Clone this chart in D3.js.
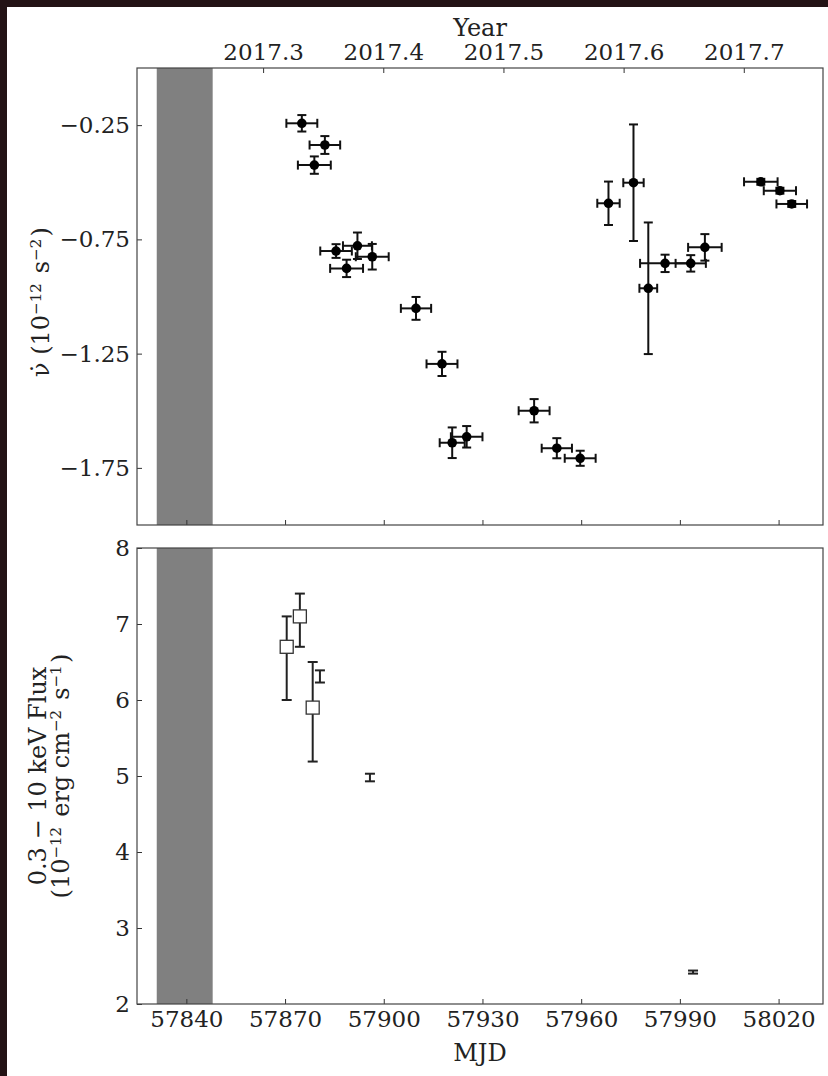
<!DOCTYPE html>
<html><head><meta charset="utf-8">
<script src="https://cdn.jsdelivr.net/npm/d3@7"></script>
<style>
body{margin:0;background:#231315;}
svg{display:block}
text{font-family:"DejaVu Serif",serif;fill:#222;}
</style>
</head><body>
<svg id="c" width="828" height="1076"></svg>
<script>
// ---- data ----
const nudotMJD  = [57875.1,57882.1,57878.9,57885.5,57892.0,57896.5,57888.7,57909.8,57917.7,57920.8,57925.2,57945.7,57952.6,57959.7,57968.3,57975.9,57980.4,57985.5,57993.3,57997.6,58014.6,58020.4,58024.0];
const nudotVal  = [-0.242,-0.337,-0.425,-0.801,-0.778,-0.826,-0.877,-1.052,-1.295,-1.640,-1.614,-1.500,-1.664,-1.708,-0.592,-0.502,-0.964,-0.855,-0.855,-0.785,-0.498,-0.537,-0.595];
const nudotXerr = [4.7,4.65,5.0,4.8,4.4,5.0,5.0,4.6,4.7,3.8,4.8,4.7,4.6,4.7,3.4,3.1,2.7,7.6,4.6,5.1,5.1,4.9,4.65];
const nudotYerr = [0.036,0.039,0.038,0.030,0.058,0.056,0.038,0.050,0.053,0.067,0.047,0.051,0.044,0.033,0.095,0.255,0.288,0.038,0.036,0.058,0.013,0.013,0.013];

const fluxSqMJD   = [57870.5,57874.5,57878.4];
const fluxSqVal   = [6.7,7.1,5.9];
const fluxSqErrLo = [0.7,0.4,0.71];
const fluxSqErrHi = [0.4,0.3,0.6];

const fluxBarMJD = [57880.6,57895.8,57994.0];
const fluxBarVal = [6.31,4.98,2.42];
const fluxBarErr = [0.08,0.05,0.02];

const gapBand = [57831,57848];

const mjdTicks   = [57840,57870,57900,57930,57960,57990,58020];
const yearTicks  = [2017.3,2017.4,2017.5,2017.6,2017.7];
const nudotTicks = [-0.25,-0.75,-1.25,-1.75];
const fluxTicks  = [2,3,4,5,6,7,8];

// ---- layout ----
const L=137, R=823;
const top1=68, bot1=525, top2=548, bot2=1004;
const svg=d3.select("#c");
svg.append("rect").attr("x",7).attr("y",7).attr("width",821).attr("height",1069).attr("fill","#fff");

const x=d3.scaleLinear().domain([57825,58033.5]).range([L,R]);
const y1=d3.scaleLinear().domain([-2,0]).range([bot1,top1]);
const y2=d3.scaleLinear().domain([2,8]).range([bot2,top2]);
const yearToMJD = yr => 51544.5 + (yr-2000)*365.25;
const FS=23;

function band(t,b){
  svg.append("rect").attr("x",x(gapBand[0])).attr("y",t).attr("width",x(gapBand[1])-x(gapBand[0])).attr("height",b-t).attr("fill","#808080");
}
band(top1,bot1); band(top2,bot2);

function styleAxis(g){
  g.select(".domain").remove();
  g.selectAll("line").attr("stroke","#333");
  g.selectAll("text").attr("font-family","DejaVu Serif").attr("font-size",FS).attr("fill","#222");
}

// top panel axes
svg.append("g").attr("transform",`translate(0,${bot1})`)
  .call(d3.axisBottom(x).tickValues(mjdTicks).tickSizeInner(-5).tickSizeOuter(0).tickFormat(""))
  .call(styleAxis);
svg.append("g").attr("transform",`translate(0,${top1})`)
  .call(d3.axisTop(x).tickValues(yearTicks.map(yearToMJD)).tickSizeInner(-5).tickSizeOuter(0).tickPadding(8)
    .tickFormat((d,i)=>d3.format(".1f")(yearTicks[i])))
  .call(styleAxis);
svg.append("g").attr("transform",`translate(${L},0)`)
  .call(d3.axisLeft(y1).tickValues(nudotTicks).tickSizeInner(-5).tickSizeOuter(0).tickPadding(7).tickFormat(d3.format(".2f")))
  .call(styleAxis);

// bottom panel axes
svg.append("g").attr("transform",`translate(0,${bot2})`)
  .call(d3.axisBottom(x).tickValues(mjdTicks).tickSizeInner(-5).tickSizeOuter(0).tickPadding(7).tickFormat(d3.format("d")))
  .call(styleAxis);
svg.append("g").attr("transform",`translate(${L},0)`)
  .call(d3.axisLeft(y2).tickValues(fluxTicks).tickSizeInner(-5).tickSizeOuter(0).tickPadding(7).tickFormat(d3.format("d")))
  .call(styleAxis);

// frames
[[top1,bot1],[top2,bot2]].forEach(([t,b])=>{
  svg.append("rect").attr("x",L).attr("y",t).attr("width",R-L).attr("height",b-t)
    .attr("fill","none").attr("stroke","#444").attr("stroke-width",1.2);
});

// top panel error bars
const g1=svg.append("g").attr("stroke","#111").attr("stroke-width",2);
const cap=4.5;
nudotMJD.forEach((m,i)=>{
  const cx=x(m), cy=y1(nudotVal[i]);
  const xl=x(m-nudotXerr[i]), xr=x(m+nudotXerr[i]);
  const yt=y1(nudotVal[i]+nudotYerr[i]), yb=y1(nudotVal[i]-nudotYerr[i]);
  g1.append("line").attr("x1",xl).attr("x2",xr).attr("y1",cy).attr("y2",cy);
  g1.append("line").attr("x1",cx).attr("x2",cx).attr("y1",yt).attr("y2",yb);
  g1.append("line").attr("x1",xl).attr("x2",xl).attr("y1",cy-cap).attr("y2",cy+cap);
  g1.append("line").attr("x1",xr).attr("x2",xr).attr("y1",cy-cap).attr("y2",cy+cap);
  g1.append("line").attr("x1",cx-cap).attr("x2",cx+cap).attr("y1",yt).attr("y2",yt);
  g1.append("line").attr("x1",cx-cap).attr("x2",cx+cap).attr("y1",yb).attr("y2",yb);
});
svg.append("g").selectAll("circle").data(nudotMJD).join("circle")
  .attr("cx",d=>x(d)).attr("cy",(d,i)=>y1(nudotVal[i])).attr("r",4.8).attr("fill","#000");

// bottom panel
const g2=svg.append("g").attr("stroke","#222").attr("stroke-width",2);
const cap2=5;
fluxBarMJD.forEach((m,i)=>{
  const cx=x(m), yt=y2(fluxBarVal[i]+fluxBarErr[i]), yb=y2(fluxBarVal[i]-fluxBarErr[i]);
  g2.append("line").attr("x1",cx).attr("x2",cx).attr("y1",yt).attr("y2",yb);
  g2.append("line").attr("x1",cx-cap2).attr("x2",cx+cap2).attr("y1",yt).attr("y2",yt);
  g2.append("line").attr("x1",cx-cap2).attr("x2",cx+cap2).attr("y1",yb).attr("y2",yb);
});
fluxSqMJD.forEach((m,i)=>{
  const cx=x(m), yt=y2(fluxSqVal[i]+fluxSqErrHi[i]), yb=y2(fluxSqVal[i]-fluxSqErrLo[i]);
  g2.append("line").attr("x1",cx).attr("x2",cx).attr("y1",yt).attr("y2",yb);
  g2.append("line").attr("x1",cx-cap2).attr("x2",cx+cap2).attr("y1",yt).attr("y2",yt);
  g2.append("line").attr("x1",cx-cap2).attr("x2",cx+cap2).attr("y1",yb).attr("y2",yb);
});
svg.append("g").selectAll("rect").data(fluxSqMJD).join("rect")
  .attr("x",d=>x(d)-6.5).attr("y",(d,i)=>y2(fluxSqVal[i])-6.5).attr("width",13).attr("height",13)
  .attr("fill","#fff").attr("stroke","#333").attr("stroke-width",1.3);

// axis titles
const TS=24;
svg.append("text").attr("x",(L+R)/2).attr("y",36).attr("text-anchor","middle").attr("font-size",TS).text("Year");
svg.append("text").attr("x",(L+R)/2).attr("y",1061).attr("text-anchor","middle").attr("font-size",TS).text("MJD");

function supLabel(xp,yp,parts){
  const t=svg.append("text").attr("transform",`translate(${xp},${yp}) rotate(-90)`)
    .attr("text-anchor","middle").attr("font-size",TS);
  parts.forEach(p=>{
    if(p.sup){
      t.append("tspan").attr("dy",-8).attr("font-size",15).text(p.s);
      t.append("tspan").attr("dy",8).attr("font-size",TS).text("\u200A");
    } else t.append("tspan").text(p.s);
  });
  return t;
}
supLabel(49,302,[{s:"ν\u0307 (10"},{s:"\u221212",sup:1},{s:" s"},{s:"\u22122",sup:1},{s:")"}]);
supLabel(46,(top2+bot2)/2,[{s:"0.3 \u2212 10 keV Flux"}]);
supLabel(69,(top2+bot2)/2,[{s:"(10"},{s:"\u221212",sup:1},{s:" erg cm"},{s:"\u22122",sup:1},{s:" s"},{s:"\u22121",sup:1},{s:")"}]);
</script>
</body></html>
